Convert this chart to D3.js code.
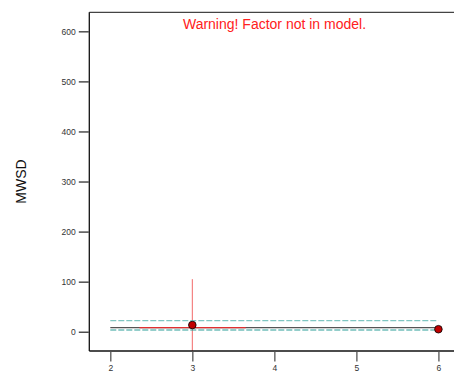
<!DOCTYPE html>
<html><head><meta charset="utf-8">
<script src="https://cdn.jsdelivr.net/npm/d3@7"></script>
<style>body{margin:0;background:#fff}svg{display:block}</style>
</head><body>
<script>
const xTicks = [2, 3, 4, 5, 6];
const yTicks = [0, 100, 200, 300, 400, 500, 600];
const pointX = [3, 6];
const pointY = [13.4, 5];
const fitLine = [[2, 8], [6, 8]];
const upperBand = [[2, 22], [6, 22]];
const lowerBand = [[2, 3.4], [6, 3.4]];
const lsdVertical = [[3, -80], [3, 105]];
const lsdHorizontal = [[2.355, 8], [3.65, 8]];
const title = "Warning! Factor not in model.";
const yLabel = "MWSD";

const W = 454, H = 372;
const svg = d3.select("body").append("svg").attr("width", W).attr("height", H);
const mL = 89.3, mR = 454, mT = 12.3, mB = 351;
const x = d3.scaleLinear().domain([1.744, 6.19]).range([mL, mR]);
const y = d3.scaleLinear().domain([-38.5, 638]).range([mB, mT]);

svg.append("defs").append("clipPath").attr("id", "clip")
  .append("rect").attr("x", mL).attr("y", mT).attr("width", mR - mL).attr("height", mB - mT);

const line = d3.line().x(d => x(d[0])).y(d => y(d[1]));
const g = svg.append("g").attr("clip-path", "url(#clip)");

g.append("path").attr("d", line(lsdVertical)).attr("stroke", "#f26a6a").attr("stroke-width", 1).attr("fill", "none");
g.append("path").attr("d", line(upperBand)).attr("stroke", "#80c6c2").attr("stroke-width", 1.2).attr("stroke-dasharray", "6,2").attr("fill", "none");
g.append("path").attr("d", line(lowerBand)).attr("stroke", "#2a9d97").attr("stroke-width", 1.2).attr("stroke-dasharray", "6,2").attr("fill", "none");
g.append("path").attr("d", line(fitLine)).attr("stroke", "#555").attr("stroke-width", 1.2).attr("fill", "none");
g.append("path").attr("d", line(lsdHorizontal)).attr("stroke", "#e03030").attr("stroke-width", 1.2).attr("fill", "none");

g.selectAll("circle.pt").data(pointX.map((v, i) => [v, pointY[i]])).enter().append("circle")
  .attr("cx", d => x(d[0])).attr("cy", d => y(d[1])).attr("r", 3.8)
  .attr("fill", "#c00000").attr("stroke", "#000").attr("stroke-width", 0.8);

// frame: top, left, bottom
svg.append("line").attr("x1", mL).attr("x2", W).attr("y1", mT).attr("y2", mT).attr("stroke", "#444").attr("stroke-width", 1.3);
svg.append("line").attr("x1", mL).attr("x2", mL).attr("y1", mT).attr("y2", mB).attr("stroke", "#111").attr("stroke-width", 1.3);
svg.append("line").attr("x1", mL).attr("x2", W).attr("y1", mB).attr("y2", mB).attr("stroke", "#111").attr("stroke-width", 1.3);

const yAxis = svg.append("g").attr("transform", `translate(${mL - 0.5},0)`)
  .call(d3.axisLeft(y).tickValues(yTicks).tickSize(10).tickPadding(3).tickSizeOuter(0));
yAxis.select(".domain").remove();
yAxis.selectAll(".tick line").attr("stroke", "#333").attr("stroke-width", 1.3);
yAxis.selectAll(".tick text").attr("font-family", "Liberation Sans, Arial, sans-serif").attr("font-size", 8.5).attr("fill", "#333");

const xAxis = svg.append("g").attr("transform", `translate(0,${mB + 0.5})`)
  .call(d3.axisBottom(x).tickValues(xTicks).tickFormat(d3.format("d")).tickSize(10).tickPadding(3).tickSizeOuter(0));
xAxis.select(".domain").remove();
xAxis.selectAll(".tick line").attr("stroke", "#555").attr("stroke-width", 1.3);
xAxis.selectAll(".tick text").attr("font-family", "Liberation Sans, Arial, sans-serif").attr("font-size", 8.5).attr("fill", "#333");

svg.append("text").attr("x", 274.5).attr("y", 29).attr("text-anchor", "middle")
  .attr("font-family", "Liberation Sans, Arial, sans-serif").attr("font-size", 14).attr("fill", "#ff2020").text(title);

svg.append("text").attr("transform", "translate(25.5,181.5) rotate(-90)").attr("text-anchor", "middle")
  .attr("font-family", "Liberation Sans, Arial, sans-serif").attr("font-size", 14).attr("fill", "#111").text(yLabel);
</script>
</body></html>
